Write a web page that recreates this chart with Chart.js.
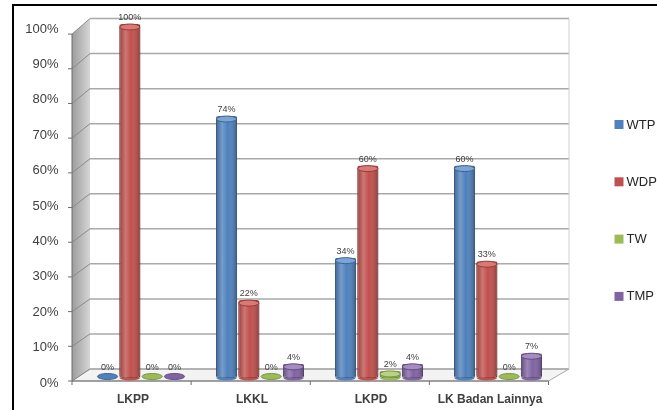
<!DOCTYPE html>
<html>
<head>
<meta charset="utf-8">
<script src="https://cdn.jsdelivr.net/npm/chart.js@4"></script>
<style>
html, body { margin: 0; padding: 0; background: #fff; }
</style>
</head>
<body>
<canvas id="myChart" width="657" height="410"></canvas>
<script>
var categories = ['LKPP', 'LKKL', 'LKPD', 'LK Badan Lainnya'];
var seriesNames = ['WTP', 'WDP', 'TW', 'TMP'];
var wtpValues = [0, 74, 34, 60];
var wdpValues = [100, 22, 60, 33];
var twValues = [0, 0, 2, 0];
var tmpValues = [0, 4, 4, 7];
var yTickValues = [0, 10, 20, 30, 40, 50, 60, 70, 80, 90, 100];

var seriesColors = ['#4f81bd', '#c0504d', '#9bbb59', '#8064a2'];
var seriesDark = ['#3a6494', '#9a3b38', '#7a9645', '#624b82'];
var seriesLight = ['#7ea4d4', '#d97a77', '#b9d383', '#a48cc2'];

// front / back face of the 3d box, derived from the bar scale pixels
function frontY(area, p) { return area.bottom + 3 - (area.bottom - p) * 0.98; }
function backY(area, p) { return area.bottom - 9 - (area.bottom - p) * 0.99; }

var boxPlugin = {
    id: 'box3d',
    beforeDraw: function (chart) {
        var ctx = chart.ctx, a = chart.chartArea, ys = chart.scales.y;
        var fx0 = a.left - 9.5, fx1 = a.right - 9, bx0 = a.left + 8.5, bx1 = a.right + 11.5;
        ctx.save();
        ctx.fillStyle = '#fff';
        ctx.fillRect(0, 0, chart.width, chart.height);

        // outer frame
        ctx.strokeStyle = '#000';
        ctx.lineWidth = 2;
        ctx.strokeRect(13, 5, 700, 450);

        // left side wall
        var g = ctx.createLinearGradient(fx0, 0, bx0, 0);
        g.addColorStop(0, '#9c9c9c');
        g.addColorStop(1, '#d6d6d6');
        ctx.fillStyle = g;
        ctx.beginPath();
        ctx.moveTo(fx0, frontY(a, a.top));
        ctx.lineTo(bx0, backY(a, a.top));
        ctx.lineTo(bx0, backY(a, a.bottom));
        ctx.lineTo(fx0, frontY(a, a.bottom));
        ctx.closePath();
        ctx.fill();

        // floor
        ctx.fillStyle = '#f3f3f3';
        ctx.strokeStyle = '#a8a8a8';
        ctx.lineWidth = 1;
        ctx.beginPath();
        ctx.moveTo(fx0, frontY(a, a.bottom));
        ctx.lineTo(fx1, frontY(a, a.bottom));
        ctx.lineTo(bx1, backY(a, a.bottom));
        ctx.lineTo(bx0, backY(a, a.bottom));
        ctx.closePath();
        ctx.fill();
        ctx.stroke();

        // back wall gridlines + wall diagonals
        yTickValues.forEach(function (v) {
            var p = ys.getPixelForValue(v);
            ctx.strokeStyle = '#a9a9a9';
            ctx.lineWidth = 1.5;
            ctx.beginPath();
            ctx.moveTo(bx0, backY(a, p));
            ctx.lineTo(bx1, backY(a, p));
            ctx.stroke();
            ctx.strokeStyle = '#8a8a8a';
            ctx.lineWidth = 1;
            ctx.beginPath();
            ctx.moveTo(fx0, frontY(a, p));
            ctx.lineTo(bx0, backY(a, p));
            ctx.stroke();
            // tick mark on front axis
            ctx.strokeStyle = '#6f6f6f';
            ctx.beginPath();
            ctx.moveTo(fx0 - 4, frontY(a, p));
            ctx.lineTo(fx0, frontY(a, p));
            ctx.stroke();
        });

        // right edge of back wall
        ctx.strokeStyle = '#cfcfcf';
        ctx.lineWidth = 1;
        ctx.beginPath();
        ctx.moveTo(bx1, backY(a, a.top));
        ctx.lineTo(bx1, backY(a, a.bottom));
        ctx.stroke();

        // front axes
        ctx.strokeStyle = '#6f6f6f';
        ctx.beginPath();
        ctx.moveTo(fx0, frontY(a, a.top));
        ctx.lineTo(fx0, frontY(a, a.bottom));
        ctx.lineTo(fx1, frontY(a, a.bottom));
        ctx.stroke();
        for (var i = 0; i <= categories.length; i++) {
            var tx = fx0 + i * (fx1 - fx0) / categories.length;
            ctx.beginPath();
            ctx.moveTo(tx, frontY(a, a.bottom));
            ctx.lineTo(tx, frontY(a, a.bottom) + 4);
            ctx.stroke();
        }
        ctx.restore();
    }
};

var cylinderPlugin = {
    id: 'cylinders',
    afterDatasetsDraw: function (chart) {
        var ctx = chart.ctx;
        ctx.save();
        chart.data.datasets.forEach(function (ds, di) {
            var meta = chart.getDatasetMeta(di);
            meta.data.forEach(function (el, i) {
                var w = el.width, x0 = el.x - w / 2, top = el.y, base = el.base;
                var h = base - top;
                if (h > 1) {
                    ctx.save();
                    ctx.beginPath();
                    ctx.rect(x0, top, w, h);
                    ctx.clip();
                    var g = ctx.createLinearGradient(x0, 0, x0 + w, 0);
                    g.addColorStop(0, 'rgba(0,0,0,0.22)');
                    g.addColorStop(0.3, 'rgba(255,255,255,0.22)');
                    g.addColorStop(0.55, 'rgba(255,255,255,0.0)');
                    g.addColorStop(1, 'rgba(0,0,0,0.3)');
                    ctx.fillStyle = g;
                    ctx.fillRect(x0, top, w, h);
                    ctx.restore();
                    // bottom rounding
                    ctx.fillStyle = ds.backgroundColor;
                    ctx.beginPath();
                    ctx.ellipse(el.x, base, w / 2 - 0.5, 2.5, 0, 0, Math.PI);
                    ctx.fill();
                    // top cap
                    ctx.fillStyle = seriesLight[di];
                    ctx.strokeStyle = seriesDark[di];
                    ctx.lineWidth = 1;
                    ctx.beginPath();
                    ctx.ellipse(el.x, top + 3, w / 2 - 0.5, 3, 0, 0, Math.PI * 2);
                    ctx.fill();
                    ctx.stroke();
                } else {
                    ctx.fillStyle = ds.backgroundColor;
                    ctx.strokeStyle = seriesDark[di];
                    ctx.lineWidth = 1;
                    ctx.beginPath();
                    ctx.ellipse(el.x, base - 1.5, w / 2 - 0.5, 3, 0, 0, Math.PI * 2);
                    ctx.fill();
                    ctx.stroke();
                }
                // value label
                ctx.fillStyle = '#404040';
                ctx.font = '9px "Liberation Sans", Arial, sans-serif';
                ctx.textAlign = 'center';
                ctx.textBaseline = 'bottom';
                ctx.fillText(ds.data[i] + '%', el.x, (h > 1 ? top : base - 4) - 2);
            });
        });
        ctx.restore();
    }
};

var legendPlugin = {
    id: 'sideLegend',
    afterDraw: function (chart) {
        var ctx = chart.ctx, a = chart.chartArea;
        ctx.save();
        ctx.font = '13px "Liberation Sans", Arial, sans-serif';
        ctx.textBaseline = 'middle';
        ctx.textAlign = 'left';
        chart.data.datasets.forEach(function (ds, di) {
            var cy = 124 + di * 57.3;
            var lx = a.right + 57;
            ctx.fillStyle = ds.backgroundColor;
            ctx.fillRect(lx, cy - 4, 9, 9);
            ctx.fillStyle = '#262626';
            ctx.fillText(ds.label, lx + 12, cy + 1);
        });
        ctx.restore();
    }
};

var seriesValues = [wtpValues, wdpValues, twValues, tmpValues];

function createChart() {
    var ctx = document.getElementById('myChart').getContext('2d');
    return new Chart(ctx, {
        type: 'bar',
        data: {
            labels: categories,
            datasets: seriesNames.map(function (name, i) {
                return {
                    label: name,
                    data: seriesValues[i],
                    backgroundColor: seriesColors[i],
                    borderColor: seriesDark[i],
                    borderWidth: 1,
                    borderSkipped: false,
                    borderRadius: 3,
                    barPercentage: 0.95,
                    categoryPercentage: 0.75
                };
            })
        },
        options: {
            responsive: false,
            animation: false,
            layout: { padding: { left: 25, right: 99.5, top: 24, bottom: 4 } },
            plugins: {
                legend: { display: false },
                tooltip: { enabled: false }
            },
            scales: {
                x: {
                    grid: { display: false, drawTicks: false },
                    border: { display: false },
                    ticks: {
                        color: '#404040',
                        font: { family: '"Liberation Sans", Arial, sans-serif', size: 12, weight: 'bold' },
                        padding: 14,
                        labelOffset: -8
                    },
                    afterFit: function (s) {
                        s.height = 28;
                        s.paddingLeft = 0;
                        s.paddingRight = 0;
                    }
                },
                y: {
                    min: 0,
                    max: 100,
                    grid: { display: false, drawTicks: false },
                    border: { display: false },
                    ticks: {
                        stepSize: 10,
                        color: '#404040',
                        font: { family: '"Liberation Sans", Arial, sans-serif', size: 13 },
                        padding: 23,
                        labelOffset: 5,
                        callback: function (v) { return v + '%'; }
                    },
                    afterFit: function (s) {
                        s.width = 56.5;
                        s.paddingTop = 0;
                        s.paddingBottom = 0;
                    }
                }
            }
        },
        plugins: [boxPlugin, cylinderPlugin, legendPlugin]
    });
}

createChart();
</script>
</body>
</html>
